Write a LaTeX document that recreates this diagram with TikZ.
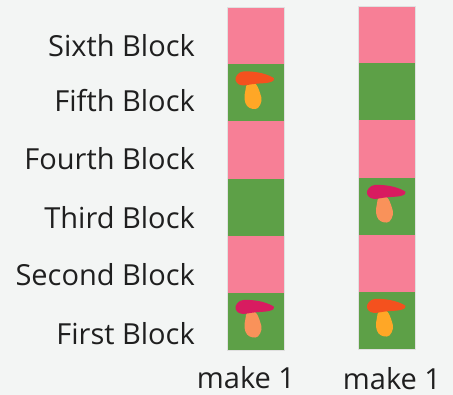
\documentclass[tikz,border=0pt]{standalone}
\usepackage{fontspec}
\setmainfont{Open Sans}
\usetikzlibrary{positioning}
\definecolor{bgGrey}{HTML}{F3F5F4}
\definecolor{blockPink}{HTML}{F77F96}
\definecolor{blockGreen}{HTML}{5DA047}
\definecolor{capRed}{HTML}{F4511E}
\definecolor{capBerry}{HTML}{D81B60}
\definecolor{stemAmber}{HTML}{FFA726}
\definecolor{stemPeach}{HTML}{F9925A}
\tikzset{
  pinkBlock/.style = {fill=blockPink, minimum width=57pt, minimum height=57.2pt, inner sep=0pt, outer sep=0pt},
  greenBlock/.style = {pinkBlock, fill=blockGreen},
  columnEdge/.style = {draw=black!12, line width=0.6pt},
  blockLabel/.style = {font=\fontsize{29}{34}\selectfont, text=black!88, anchor=base east, inner sep=0pt},
  makeLabel/.style = {font=\fontsize{29}{34}\selectfont, text=black!88, anchor=base, inner sep=0pt},
  pics/mushroom/.style 2 args = {code = {
    \fill[#2] plot[smooth cycle, tension=0.6] coordinates {(-7,6) (1,6) (5.5,15) (7,23) (3.5,30) (-2,31) (-7.5,28) (-10,21) (-9,12)};
    \fill[#1] plot[smooth cycle, tension=0.6] coordinates {(-19,0) (-14.5,-5.5) (-6,-6.5) (8,-4.5) (19.5,0.5) (15,4.5) (0,6) (-12,7.5) (-17.5,5)};
  }}
}
\begin{document}
\begin{tikzpicture}[x=1pt, y=-1pt]
  \useasboundingbox[fill=bgGrey] (0,0) rectangle (453,395);

  % left column, top to bottom
  \node[pinkBlock]  (leftF) at (255.5, 36)  {};
  \node[greenBlock] (leftE) at (255.5, 93)  {};
  \node[pinkBlock]  (leftD) at (255.5, 150) {};
  \node[greenBlock] (leftC) at (255.5, 207.5) {};
  \node[pinkBlock]  (leftB) at (255.5, 264.5) {};
  \node[greenBlock] (leftA) at (255.5, 321.5) {};
  \draw[columnEdge] (leftF.north west) rectangle (leftA.south east);

  % right column
  \node[pinkBlock]  (rightF) at (387, 35)  {};
  \node[greenBlock] (rightE) at (387, 92)  {};
  \node[pinkBlock]  (rightD) at (387, 149) {};
  \node[greenBlock] (rightC) at (387, 206.5) {};
  \node[pinkBlock]  (rightB) at (387, 263.5) {};
  \node[greenBlock] (rightA) at (387, 320.5) {};
  \draw[columnEdge] (rightF.north west) rectangle (rightA.south east);

  \pic at (leftE.north west)  [xshift=27.5pt, yshift=-13.5pt] {mushroom={capRed}{stemAmber}};
  \pic at (leftA.north west)  [xshift=27.5pt, yshift=-13.5pt] {mushroom={capBerry}{stemPeach}};
  \pic at (rightC.north west) [xshift=27.5pt, yshift=-13.5pt] {mushroom={capBerry}{stemPeach}};
  \pic at (rightA.north west) [xshift=27.5pt, yshift=-13.5pt] {mushroom={capRed}{stemAmber}};

  \node[blockLabel] (sixth)  at (195, 57)  {Sixth Block};
  \node[blockLabel] (fifth)  at (195, 112) {Fifth Block};
  \node[blockLabel] (fourth) at (195, 170) {Fourth Block};
  \node[blockLabel] (third)  at (195, 228.5) {Third Block};
  \node[blockLabel] (second) at (195, 286) {Second Block};
  \node[blockLabel] (first)  at (195, 344.5) {First Block};

  \node[makeLabel] (makeLeft)  at (246, 388.5) {make 1};
  \node[makeLabel] (makeRight) at (392, 390) {make 1};
\end{tikzpicture}
\end{document}
